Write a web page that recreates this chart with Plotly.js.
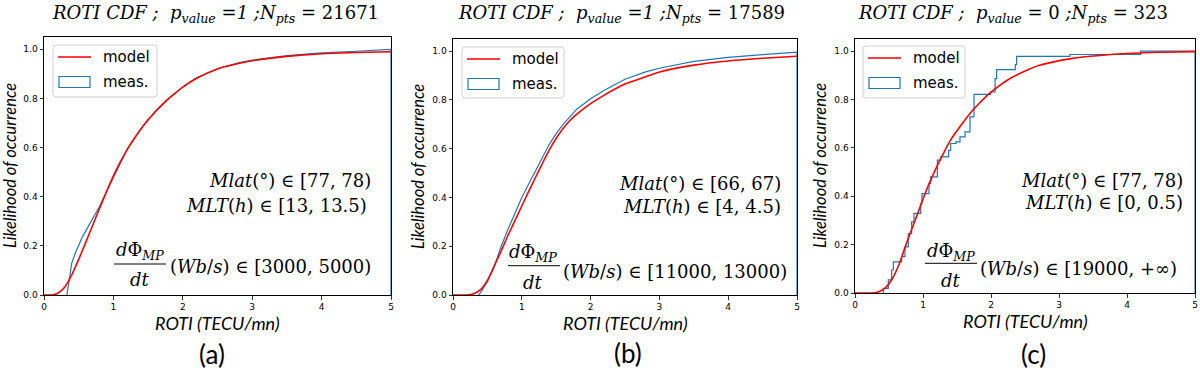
<!DOCTYPE html>
<html><head><meta charset="utf-8">
<script src="https://cdn.plot.ly/plotly-3.0.1.min.js"></script>
<style>html,body{margin:0;padding:0;background:#fff}#chart{width:1200px;height:371px}</style>
</head><body><div id="chart"></div>
<script>
// ---------------- data ----------------
const xTickVals = [0, 1, 2, 3, 4, 5];
const yTickVals = [0, 0.2, 0.4, 0.6, 0.8, 1.0];
const yTickText = ['0.0', '0.2', '0.4', '0.6', '0.8', '1.0'];
const panelLabels = ['(a)', '(b)', '(c)'];
const pValues = [1, 1, 0];
const nPts = [21671, 17589, 323];
const mlatRanges = ['[77, 78)', '[66, 67)', '[77, 78)'];
const mltRanges = ['[13, 13.5)', '[4, 4.5)', '[0, 0.5)'];
const fluxRanges = ['[3000, 5000)', '[11000, 13000)', '[19000, +∞)'];
const seriesNames = ['model', 'meas.'];

// panel (a)
const modelX_a = [0, 0.1, 0.15, 0.2, 0.3, 0.4, 0.5, 0.6, 0.7, 0.8, 0.9, 1.0, 1.1, 1.2, 1.3, 1.4, 1.5, 1.6, 1.7, 1.8, 1.9, 2.0, 2.2, 2.5, 2.8, 3.0, 3.5, 4.0, 4.5, 5.0];
const modelY_a = [0, 0, 0.002, 0.007, 0.033, 0.082, 0.145, 0.213, 0.283, 0.352, 0.42, 0.485, 0.542, 0.593, 0.637, 0.677, 0.713, 0.745, 0.774, 0.8, 0.824, 0.846, 0.882, 0.92, 0.942, 0.953, 0.971, 0.982, 0.987, 0.99];
const measX_a = [0.33, 0.34, 0.36, 0.38, 0.40, 0.45, 0.5, 0.55, 0.6, 0.7, 0.8, 0.9, 1.0, 1.1, 1.2, 1.4, 1.6, 1.8, 2.0, 2.2, 2.5, 2.8, 3.0, 3.5, 4.0, 4.5, 4.9, 5.0, 5.0];
const measY_a = [0, 0.02, 0.06, 0.1, 0.13, 0.17, 0.205, 0.235, 0.26, 0.31, 0.36, 0.42, 0.48, 0.54, 0.593, 0.678, 0.746, 0.801, 0.847, 0.884, 0.921, 0.945, 0.956, 0.974, 0.985, 0.992, 0.998, 1.0, 0];

// panel (b)
const modelX_b = [0, 0.2, 0.3, 0.4, 0.5, 0.6, 0.7, 0.8, 0.9, 1.0, 1.1, 1.2, 1.3, 1.4, 1.5, 1.6, 1.7, 1.8, 2.0, 2.2, 2.5, 2.8, 3.0, 3.5, 4.0, 4.5, 5.0];
const modelY_b = [0, 0, 0.005, 0.022, 0.06, 0.12, 0.18, 0.245, 0.305, 0.365, 0.425, 0.483, 0.54, 0.595, 0.643, 0.683, 0.716, 0.742, 0.785, 0.82, 0.865, 0.895, 0.915, 0.943, 0.96, 0.971, 0.979];
const measX_b = [0.37, 0.4, 0.5, 0.6, 0.64, 0.7, 0.8, 0.9, 1.0, 1.1, 1.2, 1.3, 1.4, 1.5, 1.6, 1.8, 2.0, 2.2, 2.5, 2.8, 3.0, 3.5, 4.0, 4.5, 4.9, 5.0, 5.0];
const measY_b = [0, 0.01, 0.055, 0.115, 0.15, 0.2, 0.27, 0.335, 0.4, 0.455, 0.51, 0.565, 0.618, 0.662, 0.7, 0.762, 0.805, 0.84, 0.885, 0.915, 0.93, 0.958, 0.975, 0.986, 0.993, 0.996, 0];

// panel (c)
const modelX_c = [0, 0.25, 0.35, 0.45, 0.55, 0.65, 0.75, 0.85, 0.95, 1.05, 1.2, 1.3, 1.4, 1.54, 1.7, 1.8, 2.0, 2.3, 2.7, 3.2, 3.6, 4.0, 4.5, 5.0];
const modelY_c = [0, 0, 0.005, 0.022, 0.06, 0.12, 0.2, 0.275, 0.35, 0.425, 0.52, 0.577, 0.63, 0.686, 0.745, 0.776, 0.83, 0.89, 0.94, 0.97, 0.982, 0.99, 0.995, 0.998];
const measX_c = [0.417, 0.417, 0.49, 0.539, 0.564, 0.686, 0.735, 0.784, 0.833, 0.868, 0.966, 0.985, 1.088, 1.113, 1.211, 1.26, 1.377, 1.407, 1.485, 1.544, 1.618, 1.691, 1.75, 1.995, 2.06, 2.083, 2.358, 2.377, 3.16, 4.2, 5.0, 5.0];
const measY_c = [0, 0.019, 0.054, 0.095, 0.129, 0.15, 0.191, 0.246, 0.294, 0.329, 0.37, 0.411, 0.453, 0.48, 0.549, 0.563, 0.59, 0.618, 0.625, 0.645, 0.666, 0.728, 0.821, 0.831, 0.886, 0.923, 0.944, 0.978, 0.986, 1.0, 1.0, 0];

// ---------------- layout helpers ----------------
const W = 1200, H = 371;
const fx = p => p / W;
const fy = p => 1 - p / H;

const frames = [
  {l: 44, r: 391, t: 37, b: 295},
  {l: 453, r: 797, t: 39, b: 295},
  {l: 855, r: 1195, t: 39, b: 293}
];
const modelData = [[modelX_a, modelY_a], [modelX_b, modelY_b], [modelX_c, modelY_c]];
const measData = [[measX_a, measY_a], [measX_b, measY_b], [measX_c, measY_c]];
const measShape = ['linear', 'linear', 'hv'];

const titlePos = [{x: 215, y: 14}, {x: 621, y: 14}, {x: 1013, y: 14}];
const yTitleX = [10, 418, 820];
const xTitleY = [323, 323, 321];
const labelPos = [{x: 212, y: 354}, {x: 628, y: 353}, {x: 1033, y: 354}];
const mlatPos = [{x: 373, y: 180}, {x: 783, y: 183}, {x: 1185, y: 181}];
const mltPos = [{x: 369, y: 205}, {x: 783, y: 207}, {x: 1185, y: 202}];
const fracPos = [
  {cx: 140, top: 251, line: 264, l: 114, r: 166, bot: 279, rx: 168, ry: 266},
  {cx: 533, top: 253, line: 265.7, l: 508, r: 560, bot: 282, rx: 561, ry: 271},
  {cx: 951, top: 252, line: 263.3, l: 925, r: 977, bot: 280, rx: 978, ry: 268}
];
const legendPos = [
  {l: 53, t: 45, r: 157, b: 97},
  {l: 462, t: 47, r: 564, b: 98},
  {l: 863, t: 46, r: 965, b: 98}
];

const RED = '#ff0000', BLUE = '#1f77b4';
const tickFont = {family: 'DejaVu Sans', size: 9, color: '#000'};
const serif = 'DejaVu Serif';
const sans = 'Lato';
const MS = 18;   // math text size
const TS = 18;   // title size

const it = (s, size) => '<span style="font-style:italic;font-size:' + size + 'px">' + s + '</span>';
const up = (s, size) => '<span style="font-size:' + size + 'px">' + s + '</span>';
const sub = (s, size) => '<sub>' + it(s, +(size * 0.7).toFixed(1)) + '</sub>';

function ann(text, x, y, xanchor, font, extra) {
  return Object.assign({xref: 'paper', yref: 'paper', x: fx(x), y: fy(y), text: text,
    showarrow: false, xanchor: xanchor, yanchor: 'middle', font: font}, extra || {});
}
function rrPath(l, t, r, b, rad) {
  const X = fx, Y = fy;
  return 'M' + X(l + rad) + ',' + Y(t) + ' L' + X(r - rad) + ',' + Y(t) +
    ' Q' + X(r) + ',' + Y(t) + ' ' + X(r) + ',' + Y(t + rad) +
    ' L' + X(r) + ',' + Y(b - rad) + ' Q' + X(r) + ',' + Y(b) + ' ' + X(r - rad) + ',' + Y(b) +
    ' L' + X(l + rad) + ',' + Y(b) + ' Q' + X(l) + ',' + Y(b) + ' ' + X(l) + ',' + Y(b - rad) +
    ' L' + X(l) + ',' + Y(t + rad) + ' Q' + X(l) + ',' + Y(t) + ' ' + X(l + rad) + ',' + Y(t) + ' Z';
}

const traces = [];
const layout = {
  width: W, height: H,
  margin: {l: 0, r: 0, t: 0, b: 0},
  paper_bgcolor: '#fff', plot_bgcolor: '#fff',
  showlegend: false, hovermode: false,
  annotations: [], shapes: []
};

frames.forEach((f, i) => {
  const sfx = i === 0 ? '' : String(i + 1);
  traces.push({
    x: measData[i][0], y: measData[i][1], name: seriesNames[1], type: 'scatter', mode: 'lines',
    line: {color: BLUE, width: 1.2, shape: measShape[i]}, xaxis: 'x' + sfx, yaxis: 'y' + sfx
  });
  traces.push({
    x: modelData[i][0], y: modelData[i][1], name: seriesNames[0], type: 'scatter', mode: 'lines',
    line: {color: RED, width: 1.6, shape: 'spline', smoothing: 0.6}, xaxis: 'x' + sfx, yaxis: 'y' + sfx
  });
  const common = {showline: true, mirror: true, linecolor: '#000', linewidth: 1, ticks: 'outside',
    ticklen: 3.5, tickwidth: 0.8, tickcolor: '#000', showgrid: false, zeroline: false,
    tickfont: tickFont, layer: 'below traces', fixedrange: true};
  layout['xaxis' + sfx] = Object.assign({}, common, {
    domain: [fx(f.l), fx(f.r)], range: [0, 5], anchor: 'y' + sfx,
    tickmode: 'array', tickvals: xTickVals, ticktext: xTickVals.map(String)
  });
  layout['yaxis' + sfx] = Object.assign({}, common, {
    domain: [fy(f.b), fy(f.t)], range: [0, 1.05], anchor: 'x' + sfx,
    tickmode: 'array', tickvals: yTickVals, ticktext: yTickText
  });

  const A = layout.annotations;
  const pTxt = pValues[i] === 1 ? up('=', TS) + it(String(pValues[i]), TS) : up('= ' + pValues[i], TS);
  const title = it('ROTI CDF ;&nbsp;&nbsp;p', TS) + sub('value', TS) + up(' ', TS) + pTxt + up(' ', TS) +
    it(';N', TS) + sub('pts', TS) + up(' = ' + nPts[i], TS);
  A.push(ann(title, titlePos[i].x, titlePos[i].y, 'center', {family: serif, size: TS, color: '#000'}));
  A.push(ann('Likelihood of occurrence', yTitleX[i], (f.t + f.b) / 2, 'center',
    {family: sans, size: 16.5, color: '#000', style: 'italic'}, {textangle: -90}));
  A.push(ann('ROTI (TECU/mn)', (f.l + f.r) / 2, xTitleY[i], 'center',
    {family: sans, size: 18, color: '#000', style: 'italic'}));
  A.push(ann(panelLabels[i], labelPos[i].x, labelPos[i].y, 'center',
    {family: sans, size: 26, color: '#000'}));
  A.push(ann(it('Mlat', MS) + up('(°) ∈ ' + mlatRanges[i], MS), mlatPos[i].x, mlatPos[i].y, 'right',
    {family: serif, size: MS, color: '#000'}));
  A.push(ann(it('MLT', MS) + up('(', MS) + it('h', MS) + up(') ∈ ' + mltRanges[i], MS), mltPos[i].x, mltPos[i].y, 'right',
    {family: serif, size: MS, color: '#000'}));
  const fp = fracPos[i];
  A.push(ann(it('d', MS) + up('Φ', MS) + sub('MP', MS), fp.cx, fp.top, 'center', {family: serif, size: MS, color: '#000'}));
  A.push(ann(it('dt', MS), fp.cx, fp.bot, 'center', {family: serif, size: MS, color: '#000'}));
  A.push(ann(up('(', MS) + it('Wb', MS) + up('/', MS) + it('s', MS) + up(') ∈ ' + fluxRanges[i], MS), fp.rx, fp.ry, 'left',
    {family: serif, size: MS, color: '#000'}));
  layout.shapes.push({type: 'line', xref: 'paper', yref: 'paper', x0: fx(fp.l), x1: fx(fp.r),
    y0: fy(fp.line), y1: fy(fp.line), line: {color: '#000', width: 1}});

  // legend
  const lg = legendPos[i];
  layout.shapes.push({type: 'path', xref: 'paper', yref: 'paper', path: rrPath(lg.l, lg.t, lg.r, lg.b, 3),
    line: {color: '#d0d0d0', width: 1}, fillcolor: 'rgba(255,255,255,0.85)', layer: 'above'});
  const my = lg.t + 12, sy = lg.t + 37;
  layout.shapes.push({type: 'line', xref: 'paper', yref: 'paper', x0: fx(lg.l + 5), x1: fx(lg.l + 38),
    y0: fy(my), y1: fy(my), line: {color: RED, width: 1.6}, layer: 'above'});
  layout.shapes.push({type: 'rect', xref: 'paper', yref: 'paper', x0: fx(lg.l + 6), x1: fx(lg.l + 37),
    y0: fy(sy - 5.5), y1: fy(sy + 5.5), line: {color: BLUE, width: 1.2}, fillcolor: 'rgba(0,0,0,0)', layer: 'above'});
  A.push(ann(seriesNames[0], lg.l + 48, my, 'left', {family: 'DejaVu Sans', size: 15, color: '#000'}));
  A.push(ann(seriesNames[1], lg.l + 48, sy, 'left', {family: 'DejaVu Sans', size: 15, color: '#000'}));
});

Plotly.newPlot('chart', traces, layout, {staticPlot: true, displayModeBar: false});
</script>
</body></html>
